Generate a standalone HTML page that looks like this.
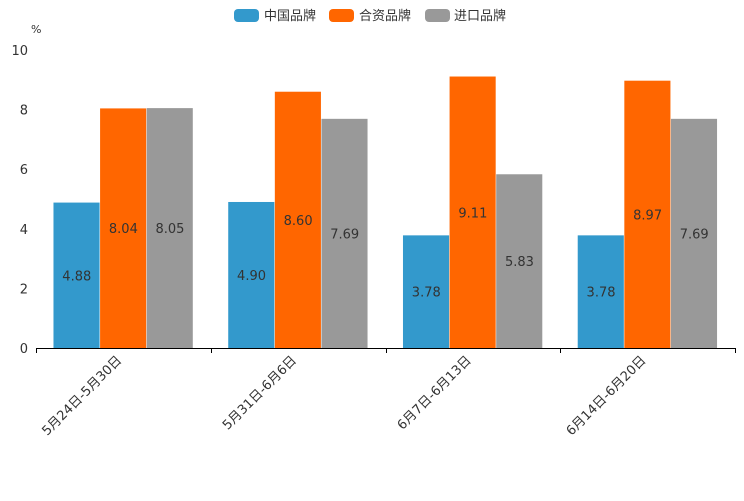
<!DOCTYPE html>
<html><head><meta charset="utf-8"><style>
body{margin:0;background:#fff}
svg text{font-family:"DejaVu Sans","Liberation Sans","Noto Sans CJK SC",sans-serif;fill:#333}
</style></head><body>
<svg id="c" width="744" height="496">
<g>
<rect x="234" y="9" width="25" height="13" rx="4" fill="#3399CC"/>
<text x="264" y="20" font-size="13">中国品牌</text>
<rect x="329" y="9" width="25" height="13" rx="4" fill="#FF6600"/>
<text x="359" y="20" font-size="13">合资品牌</text>
<rect x="425" y="9" width="25" height="13" rx="4" fill="#999999"/>
<text x="454" y="20" font-size="13">进口品牌</text>
</g>
<text x="31" y="33" font-size="11">%</text>
<g id="plot"></g>
</svg>
<script>
const categories=["5月24日-5月30日","5月31日-6月6日","6月7日-6月13日","6月14日-6月20日"];
const chinaVals=[4.88,4.90,3.78,3.78];
const jointVals=[8.04,8.60,9.11,8.97];
const importVals=[8.05,7.69,5.83,7.69];
const yTicks=[0,2,4,6,8,10];
const seriesNames=["china","joint","import"];
const colors=["#3399CC","#FF6600","#999999"];
const NS="http://www.w3.org/2000/svg";
const g=document.getElementById('plot');
const x0=36,x1=735,y0=348,y10=50;
const y=v=>y0-(y0-y10)*v/10;
const gw=(x1-x0)/categories.length;
const bw=gw*0.2667, pad=gw*0.1;
function mk(t,a,txt){const e=document.createElementNS(NS,t);for(const k in a)e.setAttribute(k,a[k]);if(txt!==undefined)e.textContent=txt;g.appendChild(e);return e;}
yTicks.forEach(t=>{
 const e=mk('text',{x:28,y:y(t)+5,'font-size':13,'text-anchor':'end'},t);
 
 
});
[chinaVals,jointVals,importVals].forEach((vals,s)=>{
 vals.forEach((v,i)=>{
  const bx=x0+gw*i+pad+bw*s;
  const r=mk('rect',{x:bx,y:y(v),width:bw-0.5,height:y0-y(v),fill:colors[s]});
  
  
  const t=mk('text',{x:bx+bw/2,y:(y(v)+y0)/2+5,'font-size':13,'text-anchor':'middle'},v.toFixed(2));
  
  
 });
});
const ax=mk('line',{x1:x0,y1:y0+0.5,x2:x1,y2:y0+0.5,stroke:'#000','stroke-width':1});


for(let i=0;i<=categories.length;i++){
 const tx=Math.round(x0+gw*i)+0.5;
 const tk=mk('line',{x1:tx,y1:y0,x2:tx,y2:y0+5,stroke:'#000'});
 
 
}
categories.forEach((c,i)=>{
 const cx=x0+gw*(i+0.5)-1, cy=y0+13;
 const t=mk('text',{x:cx,y:cy,'font-size':13,'text-anchor':'end',transform:`rotate(-45 ${cx} ${cy})`},c);
 
 
});
</script>
</body></html>
